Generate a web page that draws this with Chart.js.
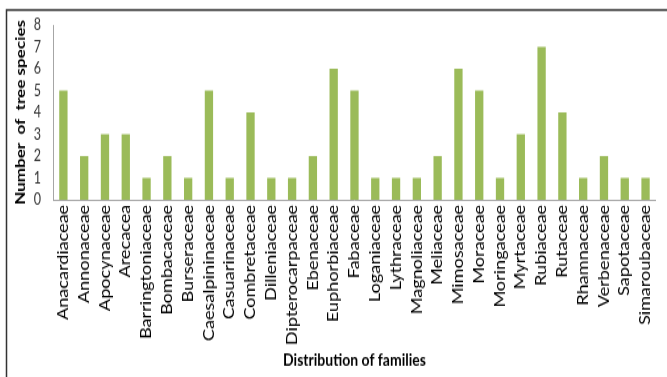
<!DOCTYPE html>
<html>
<head>
<meta charset="utf-8">
<script src="https://cdn.jsdelivr.net/npm/chart.js@4"></script>
<style>
  html, body { margin: 0; padding: 0; background: #fff; }
  /* el lienzo se dibuja más bajo y se estira en vertical */
  #chart { display: block; width: 667px; height: 377px; }
</style>
</head>
<body>
<canvas id="chart" width="667" height="302" style="width:667px;height:377px"></canvas>
<script>
// Familias y número de especies por familia
const families = [
  'Anacardiaceae', 'Annonaceae', 'Apocynaceae', 'Arecacea', 'Barringtoniaceae',
  'Bombacaceae', 'Burseraceae', 'Caesalpininaceae', 'Casuarinaceae', 'Combretaceae',
  'Dilleniaceae', 'Dipterocarpaceae', 'Ebenaceae', 'Euphorbiaceae', 'Fabaceae',
  'Loganiaceae', 'Lythraceae', 'Magnoliaceae', 'Meliaceae', 'Mimosaceae',
  'Moraceae', 'Moringaceae', 'Myrtaceae', 'Rubiaceae', 'Rutaceae',
  'Rhamnaceae', 'Verbenaceae', 'Sapotaceae', 'Simaroubaceae'
];
const speciesCount = [5, 2, 3, 3, 1, 2, 1, 5, 1, 4, 1, 1, 2, 6, 5, 1, 1, 1, 2, 6, 5, 1, 3, 7, 4, 1, 2, 1, 1];
const yTicks = [0, 1, 2, 3, 4, 5, 6, 7, 8];

const FONT = "Lato, 'Open Sans', sans-serif";

// Borde superior e izquierdo del recuadro
const frame = {
  id: 'frame',
  beforeDraw(chart) {
    const ctx = chart.ctx;
    ctx.save();
    ctx.fillStyle = '#fff';
    ctx.fillRect(0, 0, chart.width, chart.height);
    ctx.strokeStyle = '#333';
    ctx.lineWidth = 1.5;
    ctx.beginPath();
    ctx.moveTo(6.5, chart.height);
    ctx.lineTo(6.5, 8);
    ctx.lineTo(chart.width, 8);
    ctx.stroke();
    ctx.restore();
  }
};

new Chart(document.getElementById('chart'), {
  type: 'bar',
  data: {
    labels: families,
    datasets: [{
      data: speciesCount,
      backgroundColor: '#9bbb59',
      borderWidth: 0,
      barPercentage: 0.8,
      categoryPercentage: 0.5
    }]
  },
  options: {
    responsive: false,
    animation: false,
    devicePixelRatio: 1,
    layout: { padding: { left: 12, top: 20, right: 3, bottom: 5 } },
    plugins: { legend: { display: false }, tooltip: { enabled: false } },
    scales: {
      x: {
        afterFit: axis => { axis.height = 137; },
        grid: { display: false, drawTicks: false },
        border: { color: '#a6a6a6' },
        ticks: {
          color: '#000', maxRotation: 90, minRotation: 90, autoSkip: false,
          padding: 4, font: { family: FONT, size: 14.5 }
        },
        title: {
          display: true, text: 'Distribution of families', color: '#000',
          font: { family: FONT, size: 14, weight: 'bold' }, padding: 0
        }
      },
      y: {
        min: 0, max: 8,
        afterFit: axis => { axis.width = 41; },
        afterBuildTicks: axis => { axis.ticks = yTicks.map(v => ({ value: v })); },
        grid: { display: false, drawTicks: false },
        border: { color: '#a6a6a6' },
        ticks: { color: '#333', padding: 12, autoSkip: false, font: { family: FONT, size: 12.5 } },
        title: {
          display: true, text: 'Number  of  tree species', color: '#000',
          font: { family: FONT, size: 13.7, weight: 'bold' }, padding: 0
        }
      }
    }
  },
  plugins: [frame]
});
</script>
</body>
</html>
